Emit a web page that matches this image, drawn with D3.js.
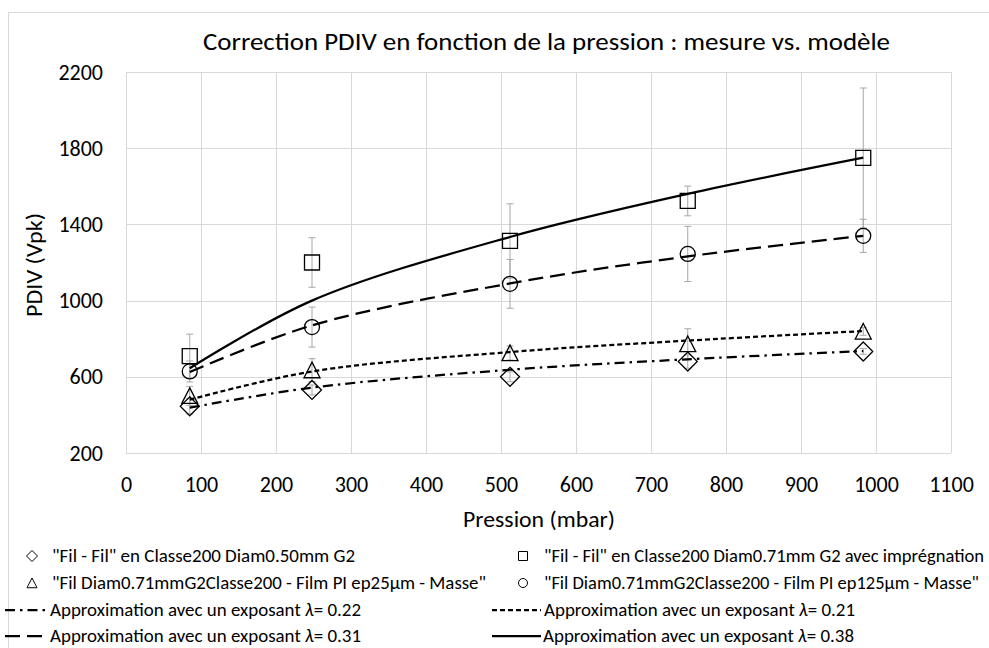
<!DOCTYPE html>
<html>
<head>
<meta charset="utf-8">
<script src="https://cdn.jsdelivr.net/npm/d3@7"></script>
<style>
  html, body { margin: 0; padding: 0; background: #ffffff; }
  svg { display: block; }
  text { font-family: Carlito, "Liberation Sans", Arial, sans-serif; fill: #000; }
</style>
</head>
<body>
<svg id="chart" width="989" height="648"></svg>
<script>
// ---------------- DATA ----------------
const pressures = [85, 248, 512, 749, 983];

const diamondValues  = [445, 531, 600, 680, 733];
const diamondErrors  = [40, 26, 26, 35, 15];
const squareValues   = [709, 1200, 1313, 1523, 1749];
const squareErrors   = [115, 130, 195, 78, 367];
const triangleValues = [500, 635, 725, 772, 838];
const triangleErrors = [50, 60, 37, 80, 20];
const circleValues   = [628, 861, 1088, 1245, 1340];
const circleErrors   = [55, 105, 128, 145, 87];

const model022 = [438, 543, 637, 692, 735];
const model021 = [480, 628, 730, 790, 840];
const model031 = [625, 870, 1090, 1232, 1340];
const model038 = [645, 1000, 1334, 1560, 1750];

const xTicks = [0, 100, 200, 300, 400, 500, 600, 700, 800, 900, 1000, 1100];
const yTicks = [200, 600, 1000, 1400, 1800, 2200];

const titleText = "Correction PDIV en fonction de la pression : mesure vs. modèle";
const xTitle = "Pression (mbar)";
const yTitle = "PDIV (Vpk)";

const markerLabels = [
  '"Fil - Fil" en  Classe200 Diam0.50mm G2',
  '"Fil - Fil" en Classe200 Diam0.71mm G2 avec imprégnation',
  '"Fil Diam0.71mmG2Classe200 - Film PI ep25µm - Masse"',
  '"Fil Diam0.71mmG2Classe200 - Film PI ep125µm - Masse"'
];
const lambdaValues = ["0.22", "0.21", "0.31", "0.38"];

// ---------------- LAYOUT ----------------
const svg = d3.select("#chart");
const plot = { left: 126, right: 951, top: 72, bottom: 453 };

const x = d3.scaleLinear().domain([0, 1100]).range([plot.left, plot.right]);
const y = d3.scaleLinear().domain([200, 2200]).range([plot.bottom, plot.top]);

// outer chart border
svg.append("rect")
  .attr("x", 8.5).attr("y", 12.5)
  .attr("width", 1000).attr("height", 700)
  .attr("fill", "none").attr("stroke", "#d9d9d9").attr("stroke-width", 1);

// gridlines
const grid = svg.append("g");
grid.selectAll(".vg").data(xTicks).enter().append("line")
  .attr("x1", d => Math.round(x(d)) + 0.5).attr("x2", d => Math.round(x(d)) + 0.5)
  .attr("y1", plot.top).attr("y2", plot.bottom)
  .attr("stroke", "#d9d9d9").attr("stroke-width", 1);
grid.selectAll(".hg").data(yTicks).enter().append("line")
  .attr("y1", d => Math.round(y(d)) + 0.5).attr("y2", d => Math.round(y(d)) + 0.5)
  .attr("x1", plot.left).attr("x2", plot.right)
  .attr("stroke", "#d9d9d9").attr("stroke-width", 1);

// axes (labels only, via d3 axis generators)
const xAxis = svg.append("g").attr("transform", `translate(0,${plot.bottom})`)
  .call(d3.axisBottom(x).tickValues(xTicks).tickSize(0).tickPadding(23).tickFormat(d3.format("d")));
const yAxis = svg.append("g").attr("transform", `translate(${plot.left},0)`)
  .call(d3.axisLeft(y).tickValues(yTicks).tickSize(0).tickPadding(23).tickFormat(d3.format("d")));
[xAxis, yAxis].forEach(a => {
  a.select(".domain").remove();
  a.selectAll("text").attr("font-size", 22).attr("fill", "#000")
    .style("font-family", 'Carlito, "Liberation Sans", Arial, sans-serif');
});

// titles
svg.append("text").attr("x", 546.5).attr("y", 50)
  .attr("text-anchor", "middle").attr("font-size", 24)
  .attr("textLength", 687).attr("lengthAdjust", "spacingAndGlyphs")
  .text(titleText);
svg.append("text").attr("x", 539).attr("y", 527)
  .attr("text-anchor", "middle").attr("font-size", 22)
  .attr("textLength", 152).attr("lengthAdjust", "spacingAndGlyphs")
  .text(xTitle);
svg.append("text").attr("transform", "translate(42,265) rotate(-90)")
  .attr("text-anchor", "middle").attr("font-size", 22)
  .attr("textLength", 104).attr("lengthAdjust", "spacingAndGlyphs")
  .text(yTitle);

// ---------------- SERIES ----------------
const ERR_COLOR = "#a6a6a6";
function errorBars(vals, errs) {
  const g = svg.append("g");
  pressures.forEach((p, i) => {
    const cx = x(p), y1 = y(vals[i] + errs[i]), y0 = y(vals[i] - errs[i]);
    g.append("line").attr("x1", cx).attr("x2", cx).attr("y1", y1).attr("y2", y0)
      .attr("stroke", ERR_COLOR).attr("stroke-width", 1);
    [y1, y0].forEach(yy => g.append("line")
      .attr("x1", cx - 3.5).attr("x2", cx + 3.5).attr("y1", yy).attr("y2", yy)
      .attr("stroke", ERR_COLOR).attr("stroke-width", 1));
  });
}
errorBars(squareValues, squareErrors);
errorBars(circleValues, circleErrors);
errorBars(triangleValues, triangleErrors);
errorBars(diamondValues, diamondErrors);

const line = d3.line().x(d => x(d[0])).y(d => y(d[1])).curve(d3.curveCatmullRom.alpha(0.5));
const models = [
  { vals: model022, dash: "10,5,2.5,5" },
  { vals: model021, dash: "5,3" },
  { vals: model031, dash: "15,7" },
  { vals: model038, dash: null }
];
models.forEach(m => {
  svg.append("path")
    .datum(pressures.map((p, i) => [p, m.vals[i]]))
    .attr("d", line)
    .attr("fill", "none").attr("stroke", "#000").attr("stroke-width", 2.25)
    .attr("stroke-dasharray", m.dash);
});

// marker shapes
function markerPath(type, s) {
  if (type === "diamond") return `M0,${-s}L${s},0L0,${s}L${-s},0Z`;
  if (type === "square") return `M${-s},${-s}H${s}V${s}H${-s}Z`;
  if (type === "triangle") return `M0,${-s}L${s},${s * 0.95}H${-s}Z`;
  return null;
}
function drawMarker(g, type, cx, cy, s, sw) {
  if (type === "circle") {
    g.append("circle").attr("cx", cx).attr("cy", cy).attr("r", s)
      .attr("fill", "none").attr("stroke", "#000").attr("stroke-width", sw);
  } else {
    g.append("path").attr("d", markerPath(type, s)).attr("transform", `translate(${cx},${cy})`)
      .attr("fill", "none").attr("stroke", "#000").attr("stroke-width", sw);
  }
}
const markerSeries = [
  { vals: diamondValues, type: "diamond", size: 9.5 },
  { vals: squareValues, type: "square", size: 7.5 },
  { vals: triangleValues, type: "triangle", size: 8 },
  { vals: circleValues, type: "circle", size: 7.5 }
];
const mg = svg.append("g");
markerSeries.forEach(s => {
  pressures.forEach((p, i) => drawMarker(mg, s.type, x(p), y(s.vals[i]), s.size, 1.3));
});

// ---------------- LEGEND ----------------
const lg = svg.append("g");
const leftSym = 32, leftText = 52, rightSym = 523, rightText = 544;
const rowBase = [562, 589, 616, 642];
const legendFont = 18;
const legendMarkers = [
  { type: "diamond", label: markerLabels[0], sx: leftSym, tx: leftText, row: 0, size: 5.5, w: 303 },
  { type: "square", label: markerLabels[1], sx: rightSym, tx: rightText, row: 0, size: 4.5, w: 440 },
  { type: "triangle", label: markerLabels[2], sx: leftSym, tx: leftText, row: 1, size: 5, w: 434 },
  { type: "circle", label: markerLabels[3], sx: rightSym, tx: rightText, row: 1, size: 4.5, w: 435 }
];
legendMarkers.forEach(l => {
  drawMarker(lg, l.type, l.sx, rowBase[l.row] - 6, l.size, 1);
  lg.append("text").attr("x", l.tx).attr("y", rowBase[l.row])
    .attr("font-size", legendFont)
    .attr("textLength", l.w).attr("lengthAdjust", "spacingAndGlyphs")
    .text(l.label);
});
const legendLines = [
  { dash: models[0].dash, lam: lambdaValues[0], x0: 5, x1: 46, tx: 50, row: 2 },
  { dash: models[1].dash, lam: lambdaValues[1], x0: 492, x1: 541, tx: 544, row: 2 },
  { dash: models[2].dash, lam: lambdaValues[2], x0: 5, x1: 48, tx: 50, row: 3 },
  { dash: models[3].dash, lam: lambdaValues[3], x0: 492, x1: 541, tx: 543, row: 3 }
];
legendLines.forEach(l => {
  lg.append("line").attr("x1", l.x0).attr("x2", l.x1)
    .attr("y1", rowBase[l.row] - 6).attr("y2", rowBase[l.row] - 6)
    .attr("stroke", "#000").attr("stroke-width", 2.25).attr("stroke-dasharray", l.dash);
  const t = lg.append("text").attr("x", l.tx).attr("y", rowBase[l.row])
    .attr("font-size", legendFont)
    .attr("textLength", 311).attr("lengthAdjust", "spacingAndGlyphs");
  t.append("tspan").text("Approximation avec un exposant ");
  t.append("tspan").attr("font-style", "italic").text("λ");
  t.append("tspan").text("= " + l.lam);
});
</script>
</body>
</html>
